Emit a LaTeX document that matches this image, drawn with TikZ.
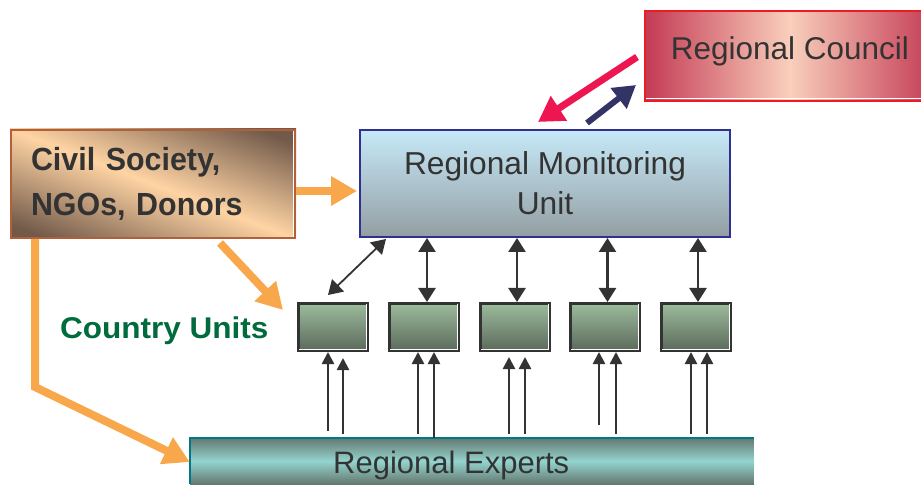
\documentclass[tikz,border=0pt]{standalone}
\usepackage{fontspec}
\setmainfont{Liberation Sans}
\newfontfamily\civfont[FakeStretch=0.95]{Liberation Sans}
\newfontfamily\cufont[FakeStretch=1.05]{Liberation Sans}
\usetikzlibrary{arrows.meta,calc,backgrounds}
\definecolor{txt}{HTML}{333333}
\definecolor{orng}{HTML}{F9A74B}
\definecolor{darrow}{HTML}{333333}
\definecolor{rmutop}{HTML}{C6E9F8}
\definecolor{rmubot}{HTML}{939EA3}
\definecolor{rmuborder}{HTML}{2E3192}
\definecolor{rcside}{HTML}{C43A54}
\definecolor{rcmid}{HTML}{F9CFBC}
\definecolor{rcborder}{HTML}{ED1C24}
\definecolor{cutop}{HTML}{9CBB9C}
\definecolor{cubot}{HTML}{5C6A5C}
\definecolor{cuborder}{HTML}{333333}
\definecolor{exdark}{HTML}{65786F}
\definecolor{exlight}{HTML}{93D4CF}
\definecolor{exborder}{HTML}{00788A}
\definecolor{cdark}{HTML}{725A4A}
\definecolor{clight}{HTML}{FFD4A4}
\definecolor{cborder}{HTML}{B2603A}
\definecolor{cugreen}{HTML}{006B3C}
\definecolor{redarr}{HTML}{EE1651}
\definecolor{navyarr}{HTML}{333366}
\pgfdeclareverticalshading{civsh}{100bp}{color(0bp)=(cdark); color(29bp)=(cdark); color(50bp)=(clight); color(71bp)=(cdark); color(100bp)=(cdark)}
\begin{document}
\begin{tikzpicture}[x=1pt,y=-1pt,
  civbox/.style={draw=cborder, line width=2pt,
    minimum width=284pt, minimum height=108pt, inner xsep=20pt, inner ysep=0pt,
    text width=244pt, align=left, text=txt,
    font=\civfont\bfseries\fontsize{32}{45}\selectfont},
  rmubox/.style={draw=rmuborder, line width=2pt, top color=rmutop, bottom color=rmubot,
    minimum width=370pt, minimum height=107pt, inner sep=0pt, align=center, text=txt,
    font=\fontsize{31.7}{40}\selectfont},
  rcbox/.style={draw=rcborder, line width=2pt, left color=rcside, right color=rcside, middle color=rcmid,
    minimum width=290pt, minimum height=90pt, inner sep=0pt,
    text height=23pt, text depth=15pt, text=txt,
    font=\fontsize{31.5}{36}\selectfont},
  cubox/.style={draw=cuborder, line width=3pt, top color=cutop, bottom color=cubot,
    minimum width=69pt, minimum height=47pt, inner sep=0pt},
  exbar/.style={top color=exdark, bottom color=exdark, middle color=exlight,
    minimum width=564pt, minimum height=46pt, inner sep=0pt},
  hilite/.style={draw=white, line width=1pt},
  orarrow/.style={draw=orng, line width=8pt, -{Triangle[length=26pt,width=28pt]}},
  dblarrow/.style={draw=darrow, line width=2.5pt, {Triangle[length=14pt,width=17pt]}-{Triangle[length=14pt,width=17pt]}},
  uparrow/.style={draw=darrow, line width=2.5pt, -{Triangle[length=12pt,width=12pt]}},
]
\useasboundingbox (0,0) rectangle (921,486);
\clip (0,0) rectangle (921,486);

% boxes
\node[civbox] (civ) at (153,184) {Civil Society,\\NGOs, Donors};
\begin{scope}[on background layer]
  \clip (civ.south west) rectangle (civ.north east);
  \begin{scope}[transform canvas={rotate around={-21:(civ.center)}}]
    \shade[shading=civsh]
      ($(civ.center)+(-230,-106)$) rectangle ($(civ.center)+(230,106)$);
  \end{scope}
\end{scope}
\draw[hilite] ($(civ.north east)+(-2.5,2)$) -- ($(civ.south east)+(-2.5,-2)$);
\node[rmubox] (rmu) at (545,183.5) {Regional Monitoring\\Unit};
\node[rcbox] (rc) at (790,56) {Regional Council};
\draw[hilite] ($(rc.south west)+(2,-3)$) -- ($(rc.south east)+(-2,-3)$);
\foreach \n/\x in {cu1/333, cu2/423.5, cu3/514.5, cu4/605, cu5/696}{
  \node[cubox] (\n) at (\x,327) {};
  \draw[hilite] ($(\n.north east)+(-2.5,2)$) -- ($(\n.south east)+(-2.5,-2.5)$) -- ($(\n.south west)+(2,-2.5)$);
}
\node[exbar] (ex) at (472,461) {};
\draw[exborder, line width=2pt] (ex.south west) -- (ex.north west) -- (ex.north east);
\draw[hilite] (ex.north east) -- (ex.south east);
\node[anchor=base west, inner sep=0pt, text=txt, font=\fontsize{31}{36}\selectfont] (exT) at (333,473) {Regional Experts};
\node[anchor=base west, inner sep=0pt, text=cugreen, font=\cufont\bfseries\fontsize{30}{36}\selectfont] (cuT) at (60,338) {Country Units};

% orange arrows
\draw[orarrow] ($(civ.east)+(0,7)$) -- ($(rmu.west)+(-2,7.5)$);
\draw[orarrow] ($(civ.south east)+(-76,4)$) -- ($(cu1.north west)+(-14,8)$);
\draw[orarrow, line join=miter] ($(civ.south west)+(25,0)$) -- ++(0,148) -- ($(ex.west)+(0,1)$);

% council arrows
\draw[draw=redarr, line width=7pt, -{Triangle[length=25pt,width=28pt]}] ($(rc.west)+(-7,1)$) -- ($(rmu.north)+(-7,-7)$);
\draw[draw=navyarr, line width=6pt, -{Triangle[length=22pt,width=25pt]}] ($(rmu.north)+(42,-6)$) -- ($(rc.south west)+(-8,-17)$);

% monitoring unit <-> country units
\draw[dblarrow, line width=1.8pt] ($(rmu.south west)+(27,1)$) -- ($(cu1.north)+(-5,-7)$);
\draw[dblarrow] ($(cu2.north |- rmu.south)+(3.5,0)$) -- ($(cu2.north)+(3.5,0)$);
\draw[dblarrow] ($(cu3.north |- rmu.south)+(2.5,0)$) -- ($(cu3.north)+(2.5,0)$);
\draw[dblarrow] ($(cu4.north |- rmu.south)+(2.5,0)$) -- ($(cu4.north)+(2.5,0)$);
\draw[dblarrow] ($(cu5.north |- rmu.south)+(2,0)$) -- ($(cu5.north)+(2,0)$);

% experts -> country units
\draw[uparrow] ($(cu1.south |- ex.north)+(-5,-7)$) -- ($(cu1.south)+(-5,0)$);
\draw[uparrow] ($(cu1.south |- ex.north)+(10,-4)$) -- ($(cu1.south)+(10,6)$);
\draw[uparrow] ($(cu2.south |- ex.north)+(-5.5,-4)$) -- ($(cu2.south)+(-5.5,0)$);
\draw[uparrow] ($(cu2.south |- ex.north)+(10.5,0)$) -- ($(cu2.south)+(10.5,0)$);
\draw[uparrow] ($(cu3.south |- ex.north)+(-5.5,-4)$) -- ($(cu3.south)+(-5.5,5)$);
\draw[uparrow] ($(cu3.south |- ex.north)+(10.5,-4)$) -- ($(cu3.south)+(10.5,5)$);
\draw[uparrow] ($(cu4.south |- ex.north)+(-6,-13)$) -- ($(cu4.south)+(-6,0)$);
\draw[uparrow] ($(cu4.south |- ex.north)+(11,-4)$) -- ($(cu4.south)+(11,0)$);
\draw[uparrow] ($(cu5.south |- ex.north)+(-5,-4)$) -- ($(cu5.south)+(-5,0)$);
\draw[uparrow] ($(cu5.south |- ex.north)+(11,-4)$) -- ($(cu5.south)+(11,0)$);
\end{tikzpicture}
\end{document}
